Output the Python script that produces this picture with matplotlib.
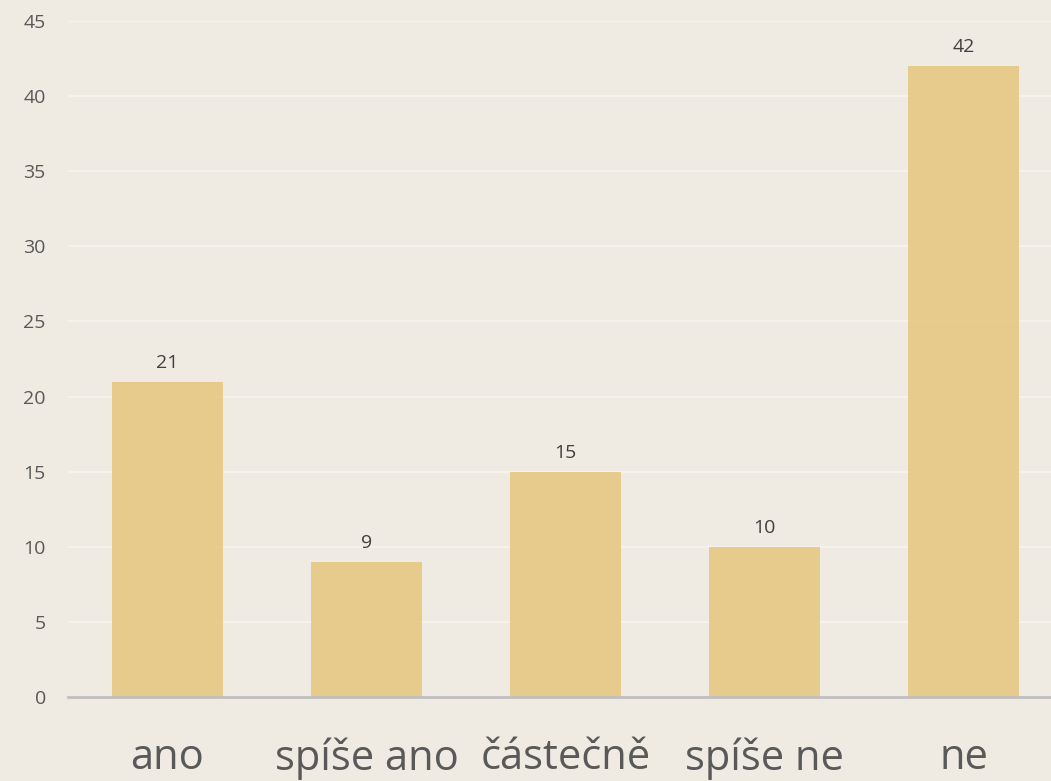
import matplotlib
matplotlib.use("Agg")
import matplotlib.pyplot as plt

categories = ["ano", "spíše ano", "částečně", "spíše ne", "ne"]
values = [21, 9, 15, 10, 42]
yticks = [0, 5, 10, 15, 20, 25, 30, 35, 40, 45]

bg = "#EFEBE3"
bar_color = "#E7C985"

plt.rcParams["font.family"] = ["Open Sans", "DejaVu Sans"]

fig = plt.figure(figsize=(10.51, 7.81), dpi=100, facecolor=bg)
ax = fig.add_axes([68 / 1051, 1 - 697 / 781, 1 - 68 / 1051, (697 - 21) / 781])
ax.set_facecolor(bg)

x = list(range(len(categories)))
bars = ax.bar(x, values, width=0.555, color=bar_color, alpha=0.92, zorder=3)
ax.bar_label(bars, labels=[str(v) for v in values], padding=7,
             fontsize=14, color="#404040")

ax.set_ylim(0, 45)
ax.set_xlim(-0.5, 4.44)
ax.set_yticks(yticks)
ax.set_xticks(x)
ax.set_xticklabels(categories, fontsize=30, color="#595959")
ax.tick_params(axis="y", labelsize=14, labelcolor="#595959", length=0, pad=16)
ax.tick_params(axis="x", length=0, pad=29)

ax.grid(axis="y", color="#F5F2ED", linewidth=1.5, zorder=0)
for s in ["top", "right", "left"]:
    ax.spines[s].set_visible(False)
ax.spines["bottom"].set_color("#BFBFBF")
ax.spines["bottom"].set_linewidth(2)
ax.spines["bottom"].set_zorder(4)

fig.savefig("out.png", dpi=100, facecolor=bg)
